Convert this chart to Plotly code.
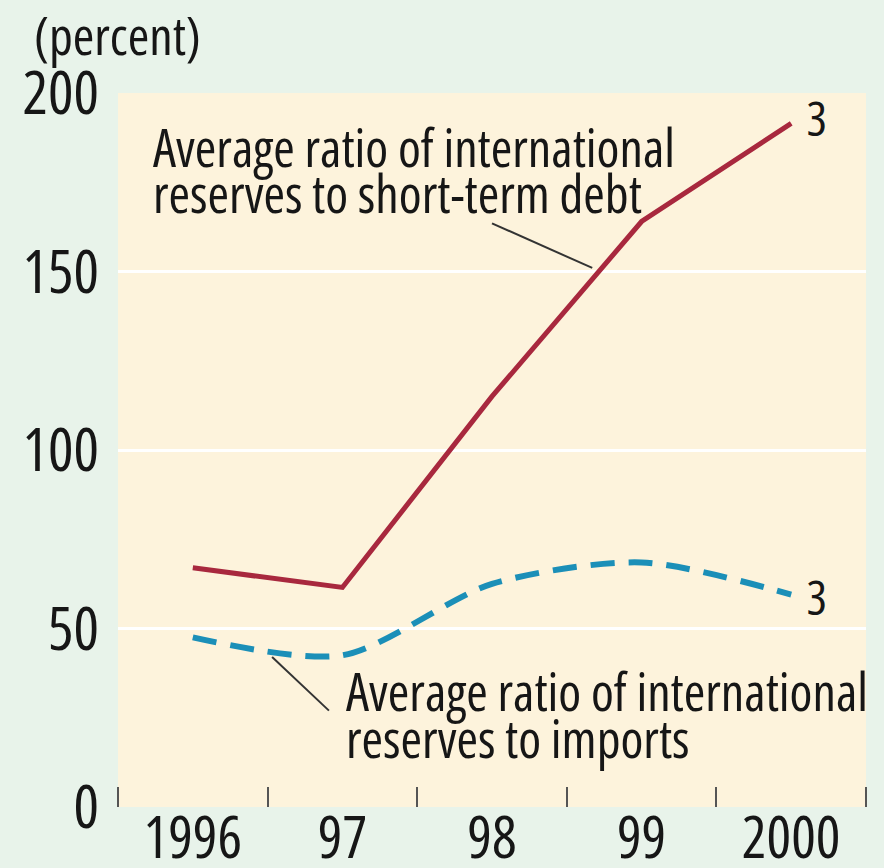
import plotly.graph_objects as go

years = ["1996", "97", "98", "99", "2000"]
debt_ratio = [67, 61.5, 115, 164, 191.5]
imports_ratio = [47.5, 42.5, 62.5, 68.5, 59.5]
y_ticks = [0, 50, 100, 150, 200]

FONT = "Open Sans"
TXT = "#161616"
xs = list(range(len(years)))

fig = go.Figure()
fig.add_trace(go.Scatter(x=xs, y=debt_ratio, mode="lines",
                         line=dict(color="#a8283e", width=5), hoverinfo="skip"))
fig.add_trace(go.Scatter(x=xs, y=imports_ratio, mode="lines",
                         line=dict(color="#1b8fb8", width=6, dash="24px,14px",
                                   shape="spline", smoothing=0.8), hoverinfo="skip"))

def fnt(size):
    return dict(family=FONT, size=size, color=TXT, weight=500)

ann = []
def txt(x, y, s, size, xanchor="left"):
    ann.append(dict(x=x, y=y, xref="x", yref="y", text=s, showarrow=False,
                    xanchor=xanchor, yanchor="middle", align=xanchor if xanchor != "center" else "center",
                    font=fnt(size)))

txt(-0.28, 185, "Average ratio of international", 52)
txt(-0.28, 172, "reserves to short-term debt", 52)
txt(1.01, 32.5, "Average ratio of international", 52)
txt(1.01, 19.5, "reserves to imports", 52)
txt(4.17, 193, "3", 48, xanchor="center")
txt(4.17, 59, "3", 48, xanchor="center")
ann.append(dict(x=-0.115, y=1.082, xref="paper", yref="paper", text="(percent)",
                showarrow=False, xanchor="left", yanchor="middle", align="left",
                font=fnt(52)))

fig.update_layout(
    width=884, height=868,
    margin=dict(l=118, r=18, t=93, b=61),
    paper_bgcolor="#e8f3ea", plot_bgcolor="#fdf3dc",
    showlegend=False,
    annotations=ann,
    xaxis=dict(range=[-0.5, 4.5], tickvals=xs, ticktext=years, ticks="",
               minor=dict(tickvals=[-0.5, 0.5, 1.5, 2.5, 3.5, 4.5], ticks="inside",
                          ticklen=20, tickwidth=2, tickcolor="#555555", showgrid=False),
               showgrid=False, zeroline=False, showline=False, automargin=False,
               ticklabelstandoff=-8, tickfont=fnt(58)),
    yaxis=dict(range=[0, 200], tickvals=y_ticks, ticks="", showline=False,
               gridcolor="#ffffff", gridwidth=3, zeroline=False, automargin=False,
               ticklabelstandoff=18, tickfont=fnt(60)),
)

# leader lines
fig.add_shape(type="line", x0=2.0, y0=163.5, x1=2.67, y1=151,
              xref="x", yref="y", line=dict(color="#333333", width=2))
fig.add_shape(type="line", x0=0.53, y0=42, x1=0.91, y1=27,
              xref="x", yref="y", line=dict(color="#333333", width=2))

post = (
    "document.body.style.margin='0';"
    "var s=document.createElement('style');"
    "s.textContent='.main-svg text{font-stretch:80% !important;}"
    " .main-svg .xtick text{font-stretch:87% !important;}';"
    "document.head.appendChild(s);"
)
fig.write_html("out.html", post_script=post, config={"displayModeBar": False})
